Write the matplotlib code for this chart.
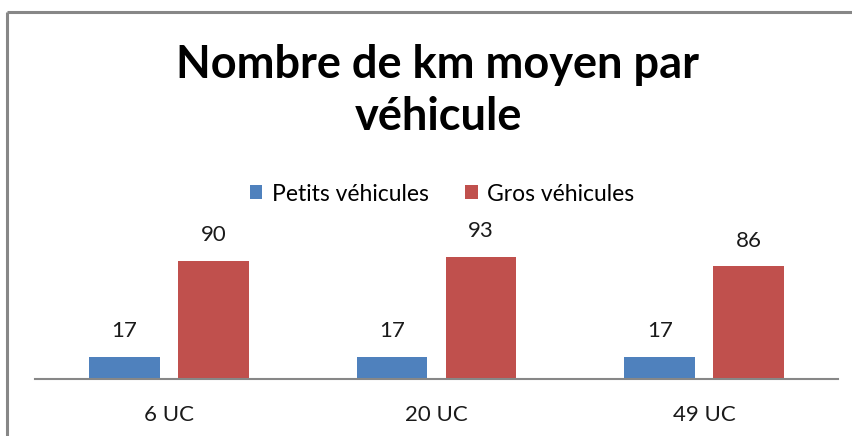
import matplotlib.pyplot as plt
import numpy as np
from matplotlib.lines import Line2D

categories = ["6 UC", "20 UC", "49 UC"]
petits = [17, 17, 17]
gros = [90, 93, 86]
series_names = ["Petits véhicules", "Gros véhicules"]

plt.rcParams["font.family"] = ["Lato", "DejaVu Sans"]

W, H = 853, 436
fig = plt.figure(figsize=(W / 100, H / 100), dpi=100)

# cadre gris (coin haut-gauche seulement visible)
fig.add_artist(Line2D([7 / W, 7 / W], [0, 1 - 12 / H], transform=fig.transFigure,
                      color="#878787", lw=2.2, solid_capstyle="butt"))
fig.add_artist(Line2D([7 / W, 1], [1 - 12 / H, 1 - 12 / H], transform=fig.transFigure,
                      color="#878787", lw=2.2, solid_capstyle="butt"))

# zone du graphique en pixels
left, right, bottom, top = 35, 838, 379, 215
ax = fig.add_axes([left / W, 1 - bottom / H, (right - left) / W, (bottom - top) / H])

x = np.arange(len(categories))
bw = 0.265
off = (bw + 18 / 266) / 2
b1 = ax.bar(x - off, petits, bw, color="#4F81BD")
b2 = ax.bar(x + off, gros, bw, color="#C0504D")

ax.set_xlim(-0.5, len(categories) - 0.5)
ax.set_ylim(0, (bottom - top) / 1.31)

for bars, vals in ((b1, petits), (b2, gros)):
    for r, v in zip(bars, vals):
        ax.text(r.get_x() + r.get_width() / 2, v + 12, str(v), ha="center", va="bottom",
                fontsize=16, color="#1a1a1a")

for s in ["top", "right", "left"]:
    ax.spines[s].set_visible(False)
ax.spines["bottom"].set_color("#878787")
ax.spines["bottom"].set_linewidth(1.5)
ax.set_yticks([])
ax.set_xticks(x)
ax.set_xticklabels(categories, fontsize=16, color="#1a1a1a")
ax.tick_params(axis="x", length=0, pad=19)

fig.text(438 / W, 1 - 78 / H, "Nombre de km moyen par", ha="center", va="baseline",
         fontsize=32.5, fontweight="bold")
fig.text(438 / W, 1 - 130 / H, "véhicule", ha="center", va="baseline",
         fontsize=32.5, fontweight="bold")

fig.legend([b1, b2], series_names, loc="center", bbox_to_anchor=(442 / W, 1 - 194 / H),
           ncol=2, frameon=False, fontsize=16.5, handlelength=0.55, handleheight=0.55,
           handletextpad=0.4, columnspacing=1.6)

fig.savefig("out.png", dpi=100)
